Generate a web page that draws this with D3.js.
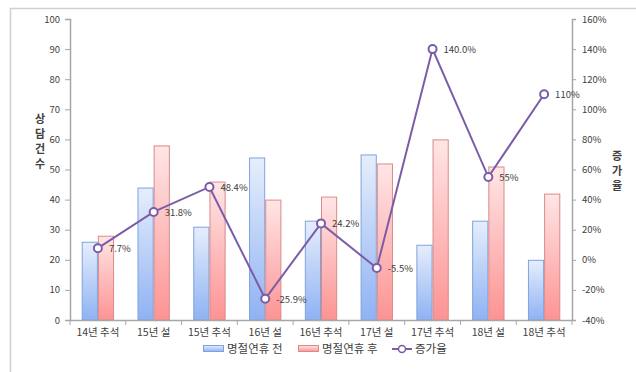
<!DOCTYPE html>
<html>
<head>
<meta charset="utf-8">
<script src="https://cdn.jsdelivr.net/npm/d3@7"></script>
<style>
  body { margin: 0; background: #fff; }
  text { font-family: "Noto Sans CJK KR", "Noto Sans", sans-serif; fill: #404040; }
</style>
</head>
<body>
<svg id="chart" width="636" height="372"></svg>
<script>
// categories and values
var categories = ['14년 추석', '15년 설', '15년 추석', '16년 설', '16년 추석', '17년 설', '17년 추석', '18년 설', '18년 추석'];
var beforeValues = [26, 44, 31, 54, 33, 55, 25, 33, 20];
var afterValues = [28, 58, 46, 40, 41, 52, 60, 51, 42];
var rateValues = [7.7, 31.8, 48.4, -25.9, 24.2, -5.5, 140, 55, 110];
var rateLabels = ['7.7%', '31.8%', '48.4%', '-25.9%', '24.2%', '-5.5%', '140.0%', '55%', '110%'];
var leftTicks = [0, 10, 20, 30, 40, 50, 60, 70, 80, 90, 100];
var rightTicks = [-40, -20, 0, 20, 40, 60, 80, 100, 120, 140, 160];

var svg = d3.select('#chart');
var plotL = 70, plotR = 572, plotT = 19, plotB = 320;

// outer frame
svg.append('path')
  .attr('d', 'M10.5,372 V8.5 H636')
  .attr('fill', 'none')
  .attr('stroke', '#d0d0d0')
  .attr('stroke-width', 1.5);

var defs = svg.append('defs');
var gb = defs.append('linearGradient').attr('id', 'gBlue').attr('x1', 0).attr('y1', 0).attr('x2', 0).attr('y2', 1);
gb.append('stop').attr('offset', '0%').attr('stop-color', '#e6eefc');
gb.append('stop').attr('offset', '100%').attr('stop-color', '#8fb2f3');
var gr = defs.append('linearGradient').attr('id', 'gRed').attr('x1', 0).attr('y1', 0).attr('x2', 0).attr('y2', 1);
gr.append('stop').attr('offset', '0%').attr('stop-color', '#ffe6e6');
gr.append('stop').attr('offset', '100%').attr('stop-color', '#fd9393');

var x = d3.scaleBand().domain(categories).range([plotL, plotR]).paddingInner(0.42).paddingOuter(0.21);
var y = d3.scaleLinear().domain([0, 100]).range([plotB, plotT]);
var y2 = d3.scaleLinear().domain([-40, 160]).range([plotB, plotT]);
var bw = x.bandwidth() / 2;

// bars
svg.selectAll('.bBefore').data(beforeValues).enter().append('rect')
  .attr('x', function (d, i) { return x(categories[i]) + 0.5; })
  .attr('y', function (d) { return y(d) + 0.5; })
  .attr('width', bw - 1)
  .attr('height', function (d) { return plotB - y(d) - 0.5; })
  .attr('fill', 'url(#gBlue)')
  .attr('stroke', '#7fa2dc');

svg.selectAll('.bAfter').data(afterValues).enter().append('rect')
  .attr('x', function (d, i) { return x(categories[i]) + bw + 0.5; })
  .attr('y', function (d) { return y(d) + 0.5; })
  .attr('width', bw - 1)
  .attr('height', function (d) { return plotB - y(d) - 0.5; })
  .attr('fill', 'url(#gRed)')
  .attr('stroke', '#d98a8a');

// axes
var axisColor = '#a6a6a6';
var gl = svg.append('g').attr('transform', 'translate(' + plotL + ',0)')
  .call(d3.axisLeft(y).tickValues(leftTicks).tickSize(5).tickPadding(5));
var gr2 = svg.append('g').attr('transform', 'translate(' + plotR + ',0)')
  .call(d3.axisRight(y2).tickValues(rightTicks).tickSize(4).tickPadding(6).tickFormat(function (d) { return d + '%'; }));
var gx = svg.append('g').attr('transform', 'translate(0,' + plotB + ')')
  .call(d3.axisBottom(x).tickSize(0).tickPadding(9));
[gl, gr2, gx].forEach(function (g) {
  g.select('.domain').attr('stroke', axisColor).attr('stroke-width', 1.5);
  g.selectAll('.tick line').attr('stroke', axisColor);
  g.selectAll('text').style('font-size', '9.5px').style('fill', '#404040');
});
gx.selectAll('text').style('font-size', '10.5px');
// category separator ticks
svg.selectAll('.sep').data(d3.range(categories.length + 1)).enter().append('line')
  .attr('x1', function (i) { return plotL + i * (plotR - plotL) / categories.length; })
  .attr('x2', function (i) { return plotL + i * (plotR - plotL) / categories.length; })
  .attr('y1', plotB).attr('y2', plotB + 5)
  .attr('stroke', axisColor);

// axis titles
var t1 = svg.append('text').attr('text-anchor', 'middle').style('font-size', '11px').style('font-weight', 'bold');
'상담건수'.split('').forEach(function (c, i) {
  t1.append('tspan').attr('x', 40).attr('y', 123 + i * 15).text(c);
});
var t2 = svg.append('text').attr('text-anchor', 'middle').style('font-size', '11px').style('font-weight', 'bold');
'증가율'.split('').forEach(function (c, i) {
  t2.append('tspan').attr('x', 617).attr('y', 160 + i * 15).text(c);
});

// rate line
var cx = function (i) { return x(categories[i]) + x.bandwidth() / 2; };
var line = d3.line().x(function (d, i) { return cx(i); }).y(function (d) { return y2(d); });
svg.append('path').datum(rateValues).attr('d', line)
  .attr('fill', 'none').attr('stroke', '#7b5ca8').attr('stroke-width', 2);
svg.selectAll('.pt').data(rateValues).enter().append('circle')
  .attr('cx', function (d, i) { return cx(i); })
  .attr('cy', function (d) { return y2(d); })
  .attr('r', 4)
  .attr('fill', '#fff').attr('stroke', '#7b5ca8').attr('stroke-width', 2);
svg.selectAll('.lbl').data(rateValues).enter().append('text')
  .attr('x', function (d, i) { return cx(i) + 11; })
  .attr('y', function (d) { return y2(d) + 4; })
  .style('font-size', '9.5px')
  .text(function (d, i) { return rateLabels[i]; });

// legend
var ly = 349;
svg.append('rect').attr('x', 203.5).attr('y', ly - 3.5).attr('width', 20).attr('height', 6)
  .attr('fill', 'url(#gBlue)').attr('stroke', '#7fa2dc');
svg.append('text').attr('x', 227).attr('y', ly + 4).style('font-size', '11.5px').text('명절연휴 전');
svg.append('rect').attr('x', 298.5).attr('y', ly - 3.5).attr('width', 20).attr('height', 6)
  .attr('fill', 'url(#gRed)').attr('stroke', '#d98a8a');
svg.append('text').attr('x', 322).attr('y', ly + 4).style('font-size', '11.5px').text('명절연휴 후');
svg.append('line').attr('x1', 392).attr('x2', 412).attr('y1', ly).attr('y2', ly)
  .attr('stroke', '#7b5ca8').attr('stroke-width', 2);
svg.append('circle').attr('cx', 402).attr('cy', ly).attr('r', 3.5)
  .attr('fill', '#fff').attr('stroke', '#7b5ca8').attr('stroke-width', 1.5);
svg.append('text').attr('x', 415).attr('y', ly + 4).style('font-size', '11.5px').text('증가율');
</script>
</body>
</html>
